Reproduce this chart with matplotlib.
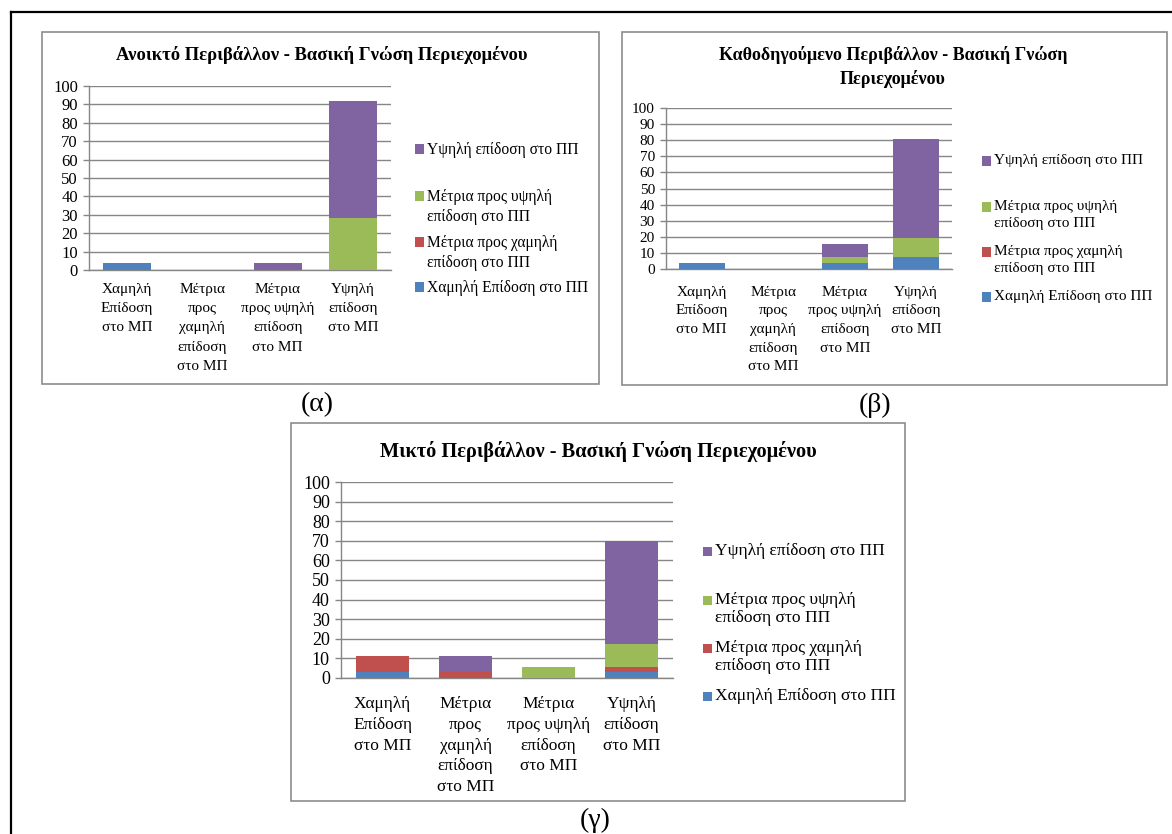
import matplotlib
matplotlib.use("Agg")
import matplotlib.pyplot as plt
import numpy as np
from matplotlib.patches import Rectangle
from matplotlib.lines import Line2D

W, H = 1172, 834
plt.rcParams['font.family'] = ['Liberation Serif', 'DejaVu Serif']

# Data
categories = ["Χαμηλή\nΕπίδοση\nστο ΜΠ",
              "Μέτρια\nπρος\nχαμηλή\nεπίδοση\nστο ΜΠ",
              "Μέτρια\nπρος υψηλή\nεπίδοση\nστο ΜΠ",
              "Υψηλή\nεπίδοση\nστο ΜΠ"]
series = ["Χαμηλή Επίδοση στο ΠΠ",
          "Μέτρια προς χαμηλή\nεπίδοση στο ΠΠ",
          "Μέτρια προς υψηλή\nεπίδοση στο ΠΠ",
          "Υψηλή επίδοση στο ΠΠ"]
colors = ["#4F81BD", "#C0504D", "#9BBB59", "#8064A2"]
yticks = list(range(0, 101, 10))

open_low = [4, 0, 0, 0]
open_midlow = [0, 0, 0, 0]
open_midhigh = [0, 0, 0, 28]
open_high = [0, 0, 4, 64]

guided_low = [3.85, 0, 3.85, 7.69]
guided_midlow = [0, 0, 0, 0]
guided_midhigh = [0, 0, 3.85, 11.54]
guided_high = [0, 0, 7.69, 61.54]

mixed_low = [2.86, 0, 0, 2.86]
mixed_midlow = [8.57, 2.86, 0, 2.86]
mixed_midhigh = [0, 0, 5.71, 11.43]
mixed_high = [0, 8.57, 0, 52.86]

titles = ["Ανοικτό Περιβάλλον - Βασική Γνώση Περιεχομένου",
          "Καθοδηγούμενο Περιβάλλον - Βασική Γνώση\nΠεριεχομένου",
          "Μικτό Περιβάλλον - Βασική Γνώση Περιεχομένου"]
captions = ["(α)", "(β)", "(γ)"]


def fx(x):
    return x / W


def fy(y):
    return 1 - y / H


def px_rect(l, t, r, b):
    return [fx(l), fy(b), (r - l) / W, (b - t) / H]


fig = plt.figure(figsize=(W / 100, H / 100), dpi=100)

# outer black frame (cut off at right and bottom)
fig.add_artist(Line2D([fx(11), fx(11)], [fy(12), fy(834)], color='black', lw=1.6,
                      transform=fig.transFigure))
fig.add_artist(Line2D([fx(11), fx(1172)], [fy(12), fy(12)], color='black', lw=1.6,
                      transform=fig.transFigure))

panels = [
    dict(data=[open_low, open_midlow, open_midhigh, open_high],
         frame=(42, 32, 599, 384), plot=(89, 86, 391, 270),
         title_xy=(322, 55), leg_x=415, leg_y=[287, 242, 196, 149],
         cap_xy=(317, 405), xs=11, ys=12, ls=11.2, ts=13.4,
         xline=1.64, lline=1.31, xpad=9),
    dict(data=[guided_low, guided_midlow, guided_midhigh, guided_high],
         frame=(622, 32, 1167, 385), plot=(666, 108, 952, 269),
         title_xy=(893, 67), leg_x=982, leg_y=[297, 252, 207, 161],
         cap_xy=(875, 405), xs=11, ys=11, ls=11, ts=13,
         xline=1.57, lline=1.34, xpad=12),
    dict(data=[mixed_low, mixed_midlow, mixed_midhigh, mixed_high],
         frame=(291, 423, 905, 801), plot=(341, 482, 673, 678),
         title_xy=(598, 451), leg_x=703, leg_y=[696, 648, 600, 551],
         cap_xy=(595, 820), xs=12.5, ys=13, ls=12.6, ts=14.7,
         xline=1.4, lline=1.17, xpad=13),
]

for i, p in enumerate(panels):
    l, t, r, b = p['frame']
    fig.add_artist(Rectangle((fx(l), fy(b)), (r - l) / W, (b - t) / H, fill=False,
                             ec='#8c8c8c', lw=1.2, transform=fig.transFigure))

    ax = fig.add_axes(px_rect(*p['plot']))
    x = np.arange(len(categories))
    bottom = np.zeros(len(categories))
    for vals, c in zip(p['data'], colors):
        ax.bar(x, vals, width=0.64, bottom=bottom, color=c, zorder=3)
        bottom += np.array(vals)

    ax.set_xlim(-0.5, 3.5)
    ax.set_ylim(0, 100)
    ax.set_yticks(yticks)
    ax.set_yticklabels([str(v) for v in yticks], fontsize=p['ys'])
    ax.set_xticks(x)
    ax.set_xticklabels(categories, fontsize=p['xs'], linespacing=p['xline'])
    ax.tick_params(axis='x', length=0, pad=p['xpad'])
    ax.tick_params(axis='y', length=4, width=1, color='#868686', pad=4)
    ax.grid(axis='y', color='#868686', lw=1, zorder=0)
    for s in ['top', 'right']:
        ax.spines[s].set_visible(False)
    for s in ['left', 'bottom']:
        ax.spines[s].set_color('#868686')
        ax.spines[s].set_linewidth(1)

    fig.text(fx(p['title_xy'][0]), fy(p['title_xy'][1]), titles[i], fontsize=p['ts'],
             fontweight='bold', ha='center', va='center', linespacing=1.45)

    # legend, drawn from top (last series) to bottom
    fpx = p['ls'] * 100 / 72
    for name, c, ly in zip(series, colors, p['leg_y']):
        fig.add_artist(Rectangle((fx(p['leg_x']), fy(ly + 4.5)), 9 / W, 9 / H,
                                 fc=c, ec='none', transform=fig.transFigure))
        fig.text(fx(p['leg_x'] + 12), fy(ly - 0.45 * fpx), name, fontsize=p['ls'],
                 ha='left', va='top', linespacing=p['lline'])

    fig.text(fx(p['cap_xy'][0]), fy(p['cap_xy'][1]), captions[i], fontsize=20,
             ha='center', va='center')

fig.savefig("out.png", dpi=100)
